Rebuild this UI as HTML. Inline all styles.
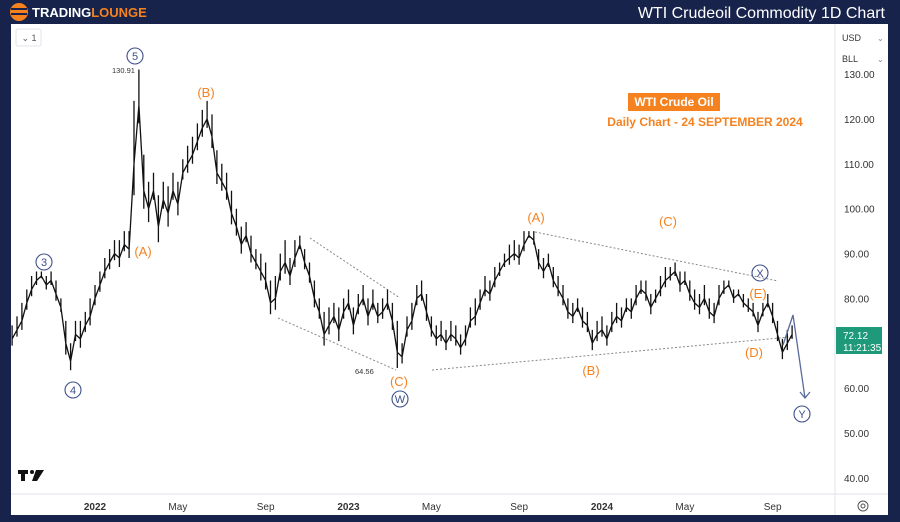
<!DOCTYPE html>
<html><head><meta charset="utf-8"><style>
body{margin:0;width:900px;height:522px;background:#17234b;overflow:hidden;font-family:"Liberation Sans",sans-serif}
svg{position:absolute;left:0;top:0}
</style></head><body>
<svg width="900" height="522">
<rect x="0" y="0" width="900" height="522" fill="#17234b"/>
<g>
<circle cx="19" cy="12" r="9" fill="#f5821f"/>
<rect x="11" y="8" width="16" height="2" fill="#17234b"/><rect x="11" y="13" width="16" height="2" fill="#17234b"/>
<text x="32" y="17" fill="#fff" font-size="13" font-weight="bold">TRADING<tspan fill="#f5821f">LOUNGE</tspan></text>
</g>
<text x="885" y="18" text-anchor="end" fill="#fff" font-size="16">WTI Crudeoil Commodity 1D Chart</text>
<rect x="11" y="24" width="877" height="491" fill="#fff"/>
<line x1="835" y1="24" x2="835" y2="515" stroke="#e0e3eb"/>
<line x1="11" y1="494" x2="888" y2="494" stroke="#e0e3eb"/>
<rect x="16" y="29" width="25" height="17" rx="2" fill="#fff" stroke="#e0e3eb"/>
<text x="29" y="41" font-size="9" fill="#555" text-anchor="middle">⌄ 1</text>
<text x="842" y="41" font-size="9" fill="#333">USD</text>
<text x="842" y="62" font-size="9" fill="#333">BLL</text>
<text x="877" y="41" font-size="8" fill="#888">⌄</text><text x="877" y="62" font-size="8" fill="#888">⌄</text>
<g id="yaxis"></g><g id="xaxis"></g>
<g id="lines" stroke="#888" stroke-dasharray="2,2" stroke-width="1" fill="none">
<line x1="310" y1="238" x2="400" y2="298"/>
<line x1="278" y1="318" x2="396" y2="370"/>
<line x1="535" y1="232" x2="778" y2="281"/>
<line x1="432" y1="370" x2="790" y2="337"/>
</g>
<path id="price" fill="none" stroke="#111" stroke-width="1.3" stroke-linejoin="bevel"/>
<polyline points="783,345 793,315 805,398" fill="none" stroke="#5a6a9a" stroke-width="1.3"/>
<polyline points="800,392 805,398 810,392" fill="none" stroke="#5a6a9a" stroke-width="1.3"/>
<g font-size="13" fill="#f5821f" text-anchor="middle">
<text x="206" y="97">(B)</text><text x="143" y="256">(A)</text><text x="399" y="386">(C)</text>
<text x="536" y="222">(A)</text><text x="668" y="226">(C)</text><text x="758" y="298">(E)</text>
<text x="754" y="357">(D)</text><text x="591" y="375">(B)</text>
</g>
<g fill="none" stroke="#3d4f8a" stroke-width="1.1">
<circle cx="135" cy="56" r="8"/><circle cx="44" cy="262" r="8"/><circle cx="73" cy="390" r="8"/>
<circle cx="400" cy="399" r="8"/><circle cx="760" cy="273" r="8"/><circle cx="802" cy="414" r="8"/>
</g>
<g font-size="11" fill="#3d4f8a" text-anchor="middle">
<text x="135" y="60">5</text><text x="44" y="266">3</text><text x="73" y="394">4</text>
<text x="400" y="403">W</text><text x="760" y="277">X</text><text x="802" y="418">Y</text>
</g>
<text x="112" y="73" font-size="7.5" fill="#333">130.91</text>
<text x="355" y="374" font-size="7.5" fill="#333">64.56</text>
<rect x="628" y="93" width="92" height="18" fill="#f5821f"/>
<text x="674" y="106" text-anchor="middle" font-size="12" font-weight="bold" fill="#fff">WTI Crude Oil</text>
<text x="705" y="126" text-anchor="middle" font-size="12" font-weight="bold" fill="#f5821f">Daily Chart - 24 SEPTEMBER 2024</text>
<rect x="836" y="327" width="46" height="27" fill="#1e9a7a"/>
<text x="843" y="339" font-size="10" fill="#fff">72.12</text>
<text x="843" y="351" font-size="10" fill="#fff">11:21:35</text>
<g fill="#111"><rect x="18" y="470" width="10" height="4"/><rect x="21" y="470" width="4" height="11"/><circle cx="32" cy="472" r="2"/><polygon points="36,470 44,470 37,481 32,481"/></g>
<g><circle cx="863" cy="506" r="5" fill="none" stroke="#555"/><circle cx="863" cy="506" r="2" fill="none" stroke="#555"/></g>
</svg>
<script>
const yTicks=[130,120,110,100,90,80,60,50,40];
const xTickLabels=["2022","May","Sep","2023","May","Sep","2024","May","Sep"];
const xTickWeeks=[0,17,35,52,69,87,104,121,139];
const xTickBold=[1,0,0,1,0,0,1,0,0];
const startWeek=-17;
const closes=[71,73,75,79,82,84,85,83,84,81,78,70,66,72,71,74,76,80,83,86,88,90,89,92,91,110,123,104,100,104,96,102,99,104,101,108,110,112,115,118,120,116,108,106,104,99,96,92,94,90,88,86,84,79,80,86,88,85,89,92,88,85,80,77,72,74,76,73,77,79,74,78,80,76,79,76,77,79,75,68,67,73,75,80,81,77,73,71,72,70,72,71,69,71,75,76,79,82,81,84,86,88,89,90,89,92,94,93,88,86,88,84,82,80,77,76,78,75,74,70,72,73,71,74,76,75,78,77,80,82,81,78,80,82,84,85,86,83,84,81,79,78,80,77,76,80,82,83,80,81,79,78,77,74,77,79,76,72,68,70,72];
const highs=[74,76,79,82,85,86,86,85,86,84,80,75,70,75,75,77,80,83,86,89,91,93,93,95,95,124,131,112,106,108,103,106,105,108,106,111,114,116,119,122,124,121,113,110,108,104,100,96,97,94,91,90,88,84,85,90,93,89,93,94,91,88,84,80,77,78,79,78,80,82,78,81,83,80,82,79,80,82,79,75,70,76,79,83,84,81,76,74,75,73,75,74,72,74,78,80,82,85,84,87,88,90,92,93,92,95,95,95,91,89,90,87,85,83,80,79,80,78,77,73,75,76,74,77,79,78,80,80,83,84,84,81,82,85,87,87,88,86,86,84,82,81,83,80,79,83,84,84,82,82,81,80,79,77,79,81,79,75,71,73,74];
const y=p=>74+(130-p)*4.489;
const x=w=>95+w*4.875;
const NS="http://www.w3.org/2000/svg";
const ya=document.getElementById('yaxis');
yTicks.forEach(v=>{const t=document.createElementNS(NS,'text');


t.setAttribute('x',844);t.setAttribute('y',y(v)+4);t.setAttribute('font-size','10');t.setAttribute('fill','#333');t.textContent=v.toFixed(2);ya.appendChild(t);});
const xa=document.getElementById('xaxis');
xTickLabels.forEach((l,i)=>{const t=document.createElementNS(NS,'text');


t.setAttribute('x',x(xTickWeeks[i]));t.setAttribute('y',510);t.setAttribute('font-size','10');t.setAttribute('text-anchor','middle');t.setAttribute('fill','#333');
if(xTickBold[i])t.setAttribute('font-weight','bold');t.textContent=l;xa.appendChild(t);});
let d='';closes.forEach((c,i)=>{const X=x(startWeek+i);const lo=c-(highs[i]-c)*0.5;
d+=(i?'L':'M')+X.toFixed(1)+','+y(c).toFixed(1)+'M'+X.toFixed(1)+','+y(highs[i]).toFixed(1)+'L'+X.toFixed(1)+','+y(lo).toFixed(1)+'M'+X.toFixed(1)+','+y(c).toFixed(1);});
document.getElementById('price').setAttribute('d',d);
</script>
</body></html>
